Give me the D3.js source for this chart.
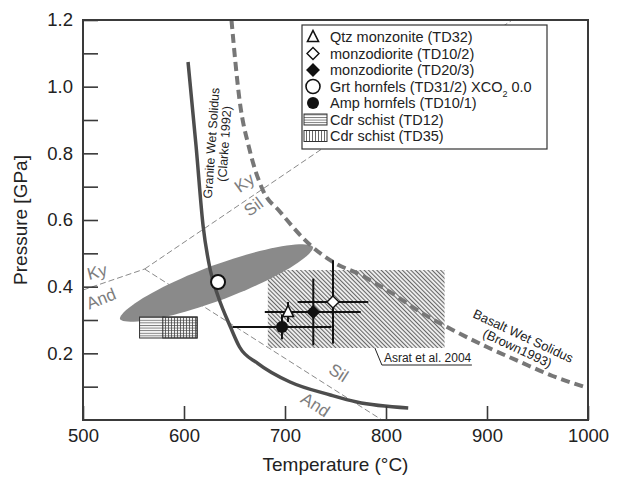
<!DOCTYPE html>
<html>
<head>
<meta charset="utf-8">
<script src="https://cdn.jsdelivr.net/npm/d3@7/dist/d3.min.js"></script>
<style>
  html, body { margin: 0; padding: 0; background: #fff; }
  svg { display: block; font-family: "Liberation Sans", Arial, sans-serif; }
</style>
</head>
<body>
<svg id="chart" width="617" height="479"></svg>
<script>
// ---- Axis ticks ----
const tempTicks = [500, 600, 700, 800, 900, 1000];
const pressMajorTicks = [0.2, 0.4, 0.6, 0.8, 1.0, 1.2];
const pressMinorTicks = [0.1, 0.3, 0.5, 0.7, 0.9, 1.1];

// ---- Solidus curves [T (°C), P (GPa)] ----
const graniteSolidus = [
  [604, 1.074], [612, 0.82], [619, 0.58], [626, 0.45], [634, 0.369],
  [646, 0.279], [655, 0.219], [673, 0.17], [705, 0.114], [745, 0.075],
  [771, 0.054], [822, 0.036]
];
const basaltSolidus = [
  [647, 1.2], [655, 0.96], [665, 0.81], [678, 0.69], [695, 0.625],
  [725, 0.525], [751, 0.468], [771, 0.441], [804, 0.384], [834, 0.324],
  [866, 0.27], [900, 0.219], [933, 0.174], [965, 0.132], [1000, 0.096]
];

// ---- Aluminosilicate reactions ----
const kyAnd = [[500, 0.39], [561, 0.453]];
const kySil = [[561, 0.453], [925, 1.2]];
const silAnd = [[561, 0.453], [796, 0.0]];

// ---- P-T estimates ----
const ptEllipseTips = [[536.6, 0.303], [727.7, 0.519]];
const asratBox = { t0: 683, t1: 858, p0: 0.216, p1: 0.45 };
const cdrTD12 = { t0: 556, t1: 613, p0: 0.246, p1: 0.309 };
const cdrTD35 = { t0: 579, t1: 613, p0: 0.246, p1: 0.309 };

const sampleNames = ["Qtz monzonite (TD32)", "monzodiorite (TD10/2)", "monzodiorite (TD20/3)",
                     "Grt hornfels (TD31/2)", "Amp hornfels (TD10/1)"];
const sampleT  = [703, 747.5, 728, 633.7, 697];
const sampleP  = [0.324, 0.354, 0.324, 0.414, 0.279];
const sampleDT = [23, 35, 47, 0, 49];
const sampleDP = [0.03, 0.125, 0.1, 0, 0.037];
const sampleSymbol = ["triangle", "diamond", "diamondFilled", "circleLarge", "circleFilled"];

// ---- Phase field labels: text, anchor T, anchor P, rotation ----
const phaseLabels = [
  ["Ky", 514, 0.444, -15], ["And", 518, 0.363, -22],
  ["Ky", 660, 0.711, -36], ["Sil", 669, 0.639, -36],
  ["Sil", 753, 0.141, 33], ["And", 730, 0.045, 33]
];

const svg = d3.select("#chart");
const W = 617, H = 479;
const margin = { left: 83, right: 29, top: 20, bottom: 59 };

const x = d3.scaleLinear().domain([500, 1000]).range([margin.left, W - margin.right]);
const y = d3.scaleLinear().domain([0, 1.2]).range([H - margin.bottom, margin.top]);

const defs = svg.append("defs");
// diagonal hatch for the Asrat et al. field
const hatch = defs.append("pattern").attr("id", "hatchDiag")
  .attr("patternUnits", "userSpaceOnUse").attr("width", 3).attr("height", 3)
  .attr("patternTransform", "rotate(-45)");
hatch.append("rect").attr("width", 3).attr("height", 3).attr("fill", "#efefef");
hatch.append("line").attr("x1", 0.5).attr("y1", 0).attr("x2", 0.5).attr("y2", 3)
  .attr("stroke", "#666").attr("stroke-width", 1.1);
// horizontal ruling
const hLines = defs.append("pattern").attr("id", "hLines")
  .attr("patternUnits", "userSpaceOnUse").attr("width", 4).attr("height", 2.6);
hLines.append("line").attr("x1", 0).attr("y1", 0.5).attr("x2", 4).attr("y2", 0.5)
  .attr("stroke", "#555").attr("stroke-width", 0.8);
// vertical ruling
const vLines = defs.append("pattern").attr("id", "vLines")
  .attr("patternUnits", "userSpaceOnUse").attr("width", 3).attr("height", 4);
vLines.append("line").attr("x1", 0.5).attr("y1", 0).attr("x2", 0.5).attr("y2", 4)
  .attr("stroke", "#444").attr("stroke-width", 0.8);

const plot = svg.append("g");
const line = d3.line().x(d => x(d[0])).y(d => y(d[1]));
const smooth = d3.line().x(d => x(d[0])).y(d => y(d[1])).curve(d3.curveMonotoneX);

// aluminosilicate reaction lines
[kyAnd, kySil, silAnd].forEach(seg => {
  plot.append("path").attr("d", line(seg)).attr("fill", "none")
    .attr("stroke", "#8a8a8a").attr("stroke-width", 1).attr("stroke-dasharray", "6,3");
});

// Asrat et al. 2004 field
plot.append("rect")
  .attr("x", x(asratBox.t0)).attr("y", y(asratBox.p1))
  .attr("width", x(asratBox.t1) - x(asratBox.t0))
  .attr("height", y(asratBox.p0) - y(asratBox.p1))
  .attr("fill", "url(#hatchDiag)");

// P-T uncertainty envelope: a slender lens between the two tips
{
  const [a, b] = ptEllipseTips;
  const x1 = x(a[0]), y1 = y(a[1]), x2 = x(b[0]), y2 = y(b[1]);
  const cx = (x1 + x2) / 2, cy = (y1 + y2) / 2;
  const rx = Math.hypot(x2 - x1, y2 - y1) / 2;
  const ang = Math.atan2(y2 - y1, x2 - x1) * 180 / Math.PI;
  const ry = 17.5;
  const pts = d3.range(0, 361, 4).map(deg => {
    const t = deg * Math.PI / 180;
    const c = Math.cos(t), s = Math.sin(t);
    // slightly sharpened ends
    return [rx * c, ry * Math.sign(s) * Math.pow(Math.abs(s), 1.15)];
  });
  plot.append("path")
    .attr("d", d3.line().curve(d3.curveLinearClosed)(pts))
    .attr("transform", `translate(${cx},${cy}) rotate(${ang})`)
    .attr("fill", "#8a8a8a");
}

// cordierite schist boxes
function ruledBox(g, b, fill) {
  g.append("rect").attr("x", x(b.t0)).attr("y", y(b.p1))
    .attr("width", x(b.t1) - x(b.t0)).attr("height", y(b.p0) - y(b.p1))
    .attr("fill", fill).attr("stroke", "#333").attr("stroke-width", 1);
}
plot.append("rect").attr("x", x(cdrTD12.t0)).attr("y", y(cdrTD12.p1))
  .attr("width", x(cdrTD12.t1) - x(cdrTD12.t0)).attr("height", y(cdrTD12.p0) - y(cdrTD12.p1))
  .attr("fill", "#fafafa");
ruledBox(plot, cdrTD12, "url(#hLines)");
ruledBox(plot, cdrTD35, "url(#vLines)");

// solidus curves
plot.append("path").attr("d", smooth(graniteSolidus)).attr("fill", "none")
  .attr("stroke", "#4d4d4d").attr("stroke-width", 3.5);
plot.append("path").attr("d", smooth(basaltSolidus)).attr("fill", "none")
  .attr("stroke", "#777").attr("stroke-width", 4).attr("stroke-dasharray", "9,5");

// error bars
sampleT.forEach((t, i) => {
  if (sampleDT[i] > 0) {
    plot.append("line").attr("x1", x(t - sampleDT[i])).attr("x2", x(t + sampleDT[i]))
      .attr("y1", y(sampleP[i])).attr("y2", y(sampleP[i]))
      .attr("stroke", "#111").attr("stroke-width", 2);
  }
  if (sampleDP[i] > 0) {
    plot.append("line").attr("x1", x(t)).attr("x2", x(t))
      .attr("y1", y(sampleP[i] - sampleDP[i])).attr("y2", y(sampleP[i] + sampleDP[i]))
      .attr("stroke", "#111").attr("stroke-width", 2);
  }
});

// sample symbols
function drawSymbol(g, kind, cx, cy) {
  if (kind === "triangle") {
    g.append("path").attr("d", `M${cx},${cy - 6.5}L${cx + 5.5},${cy + 4.5}L${cx - 5.5},${cy + 4.5}Z`)
      .attr("fill", "#fff").attr("stroke", "#111").attr("stroke-width", 1.6);
  } else if (kind === "diamond" || kind === "diamondFilled") {
    g.append("path").attr("d", `M${cx},${cy - 6}L${cx + 6},${cy}L${cx},${cy + 6}L${cx - 6},${cy}Z`)
      .attr("fill", kind === "diamond" ? "#fff" : "#111").attr("stroke", "#111").attr("stroke-width", 1.4);
  } else if (kind === "circleLarge") {
    g.append("circle").attr("cx", cx).attr("cy", cy).attr("r", 7)
      .attr("fill", "#fff").attr("stroke", "#111").attr("stroke-width", 2);
  } else if (kind === "circleFilled") {
    g.append("circle").attr("cx", cx).attr("cy", cy).attr("r", 6).attr("fill", "#111");
  }
}
// draw the filled circle first so the triangle sits on top
[4, 2, 1, 0, 3].forEach(i => drawSymbol(plot, sampleSymbol[i], x(sampleT[i]), y(sampleP[i])));

// phase field labels
phaseLabels.forEach(([txt, t, p, rot]) => {
  plot.append("text").attr("transform", `translate(${x(t)},${y(p)}) rotate(${rot})`)
    .attr("text-anchor", "middle").attr("dominant-baseline", "central")
    .attr("font-size", 17).attr("fill", "#7d7d7d").text(txt);
});

// solidus labels
{
  const gl = plot.append("text")
    .attr("transform", `translate(${x(627)},${y(0.831)}) rotate(-86)`)
    .attr("text-anchor", "middle").attr("font-size", 12.5).attr("fill", "#222");
  gl.append("tspan").attr("x", 0).attr("dy", "0.35em").text("Granite Wet Solidus");
  gl.append("tspan").attr("x", 0).attr("dy", "1.05em").text("(Clarke 1992)");

  const bl = plot.append("text")
    .attr("transform", `translate(${x(934)},${y(0.24)}) rotate(25)`)
    .attr("text-anchor", "middle").attr("font-size", 13).attr("fill", "#222");
  bl.append("tspan").attr("x", 0).attr("dy", "0em").text("Basalt Wet Solidus");
  bl.append("tspan").attr("x", 0).attr("dy", "1.05em").text("(Brown1993)");
}

// Asrat et al. 2004 callout
{
  const lx = x(789), ly = y(0.216);
  plot.append("path")
    .attr("d", `M${lx},${ly}L${lx + 7},${ly + 17}L${lx + 97},${ly + 17}`)
    .attr("fill", "none").attr("stroke", "#222").attr("stroke-width", 1);
  plot.append("text").attr("x", lx + 9).attr("y", ly + 14)
    .attr("font-size", 12).attr("fill", "#222").text("Asrat et al. 2004");
}

// axes
const axisColor = "#3a3a3a";
const yAxis = svg.append("g").attr("transform", `translate(${margin.left},0)`)
  .call(d3.axisLeft(y).tickValues(pressMajorTicks).tickSize(-15).tickPadding(10)
    .tickFormat(d3.format(".1f")));
const yMinor = svg.append("g").attr("transform", `translate(${margin.left},0)`)
  .call(d3.axisLeft(y).tickValues(pressMinorTicks).tickSize(-15).tickFormat(""));
const xAxis = svg.append("g").attr("transform", `translate(0,${H - margin.bottom})`)
  .call(d3.axisBottom(x).tickValues(tempTicks).tickSize(-14).tickPadding(9)
    .tickFormat(d3.format("d")));
[yAxis, yMinor, xAxis].forEach(g => {
  g.select(".domain").remove();
  g.selectAll(".tick line").attr("stroke", axisColor).attr("stroke-width", 1.6);
  g.selectAll(".tick text").attr("font-size", 18.5).attr("fill", "#222")
    .attr("font-family", "'Liberation Sans', Arial, sans-serif");
});

// frame
svg.append("rect").attr("x", margin.left).attr("y", margin.top)
  .attr("width", W - margin.left - margin.right).attr("height", H - margin.top - margin.bottom)
  .attr("fill", "none").attr("stroke", axisColor).attr("stroke-width", 2);

// axis titles
svg.append("text").attr("x", (margin.left + W - margin.right) / 2).attr("y", 471)
  .attr("text-anchor", "middle").attr("font-size", 19).attr("fill", "#222")
  .text("Temperature (°C)");
svg.append("text").attr("transform", `translate(27,${(margin.top + H - margin.bottom) / 2}) rotate(-90)`)
  .attr("text-anchor", "middle").attr("font-size", 19).attr("fill", "#222")
  .text("Pressure [GPa]");

// legend (drawn last, its white background hides the Ky–Sil line)
{
  const lg = svg.append("g");
  lg.append("rect").attr("x", 302).attr("y", 25).attr("width", 245).attr("height", 124)
    .attr("fill", "#fff").attr("stroke", "#333").attr("stroke-width", 1.2);
  const rowY = i => 37 + i * 16.5;
  const symX = 313, textX = 330;
  sampleNames.forEach((name, i) => {
    const kind = sampleSymbol[i];
    if (kind === "circleLarge") {
      lg.append("circle").attr("cx", symX).attr("cy", rowY(i)).attr("r", 7)
        .attr("fill", "#fff").attr("stroke", "#111").attr("stroke-width", 1.6);
    } else {
      drawSymbol(lg, kind, symX, rowY(i));
    }
    const t = lg.append("text").attr("x", textX).attr("y", rowY(i)).attr("dy", "0.35em")
      .attr("font-size", 14.5).attr("fill", "#222").text(name);
    if (kind === "circleLarge") {
      t.append("tspan").text(" XCO");
      t.append("tspan").attr("font-size", 9).attr("baseline-shift", "sub").text("2");
      t.append("tspan").text(" 0.0");
    }
  });
  const boxes = [["Cdr schist (TD12)", "url(#hLines)"], ["Cdr schist (TD35)", "url(#vLines)"]];
  boxes.forEach(([label, fill], j) => {
    const ry = rowY(5 + j);
    lg.append("rect").attr("x", 304).attr("y", ry - 5.5).attr("width", 23).attr("height", 11)
      .attr("fill", fill).attr("stroke", "#333").attr("stroke-width", 1);
    lg.append("text").attr("x", textX).attr("y", ry).attr("dy", "0.35em")
      .attr("font-size", 14.5).attr("fill", "#222").text(label);
  });
}
</script>
</body>
</html>
